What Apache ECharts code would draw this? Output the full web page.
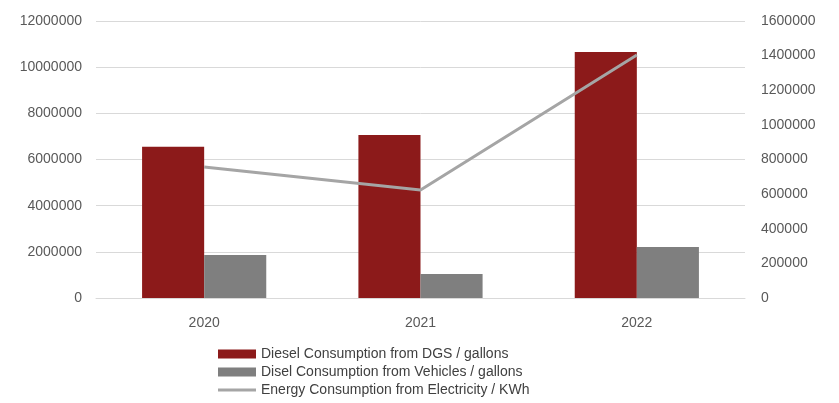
<!DOCTYPE html>
<html>
<head>
<meta charset="utf-8">
<script src="https://cdn.jsdelivr.net/npm/echarts@6/dist/echarts.min.js"></script>
<style>
  html, body { margin: 0; padding: 0; background: #ffffff; }
  #chart { width: 839px; height: 403px; }
</style>
</head>
<body>
<div id="chart"></div>
<script>
const years = ['2020', '2021', '2022'];
const dgsDiesel = [6550000, 7060000, 10660000];
const vehicleDiesel = [1860000, 1040000, 2210000];
const electricity = [757000, 624000, 1404000];
const seriesNames = [
  'Diesel Consumption from DGS / gallons',
  'Disel Consumption from Vehicles / gallons',
  'Energy Consumption from Electricity / KWh'
];

const font = '"Liberation Sans", Arial, sans-serif';
const plain = v => String(v);
const chart = echarts.init(document.getElementById('chart'));
chart.setOption({
  animation: false,
  backgroundColor: '#ffffff',
  textStyle: { fontFamily: font },
  grid: { left: 96, right: 94, top: 21, bottom: 105 },
  legend: {
    orient: 'vertical',
    left: 213,
    top: 342,
    itemWidth: 38,
    itemHeight: 9,
    itemGap: 4,
    textStyle: { fontFamily: font, fontSize: 14, color: '#404040' },
    data: [
      { name: seriesNames[0], icon: 'rect' },
      { name: seriesNames[1], icon: 'rect' },
      { name: seriesNames[2], icon: 'path://M0,3H38V6H0Z' }
    ]
  },
  xAxis: {
    type: 'category',
    data: years,
    axisTick: { show: false },
    axisLine: { lineStyle: { color: '#d9d9d9' } },
    axisLabel: { color: '#595959', fontSize: 14, margin: 18 }
  },
  yAxis: [
    {
      type: 'value',
      min: 0, max: 12000000, interval: 2000000,
      axisLabel: { color: '#595959', fontSize: 14, margin: 14, formatter: plain },
      splitLine: { lineStyle: { color: '#d9d9d9' } },
      axisLine: { show: false }, axisTick: { show: false }
    },
    {
      type: 'value',
      min: 0, max: 1600000, interval: 200000,
      axisLabel: { color: '#595959', fontSize: 14, margin: 16, formatter: plain },
      splitLine: { show: false },
      axisLine: { show: false }, axisTick: { show: false }
    }
  ],
  series: [
    {
      name: seriesNames[0], type: 'bar', data: dgsDiesel,
      barGap: '0%', barCategoryGap: '42.6%',
      itemStyle: { color: '#8c1a1a' }
    },
    {
      name: seriesNames[1], type: 'bar', data: vehicleDiesel,
      itemStyle: { color: '#7f7f7f' }
    },
    {
      name: seriesNames[2], type: 'line', yAxisIndex: 1, data: electricity,
      symbol: 'none',
      lineStyle: { color: '#a5a5a5', width: 3 },
      itemStyle: { color: '#a5a5a5' }
    }
  ]
});
</script>
</body>
</html>
